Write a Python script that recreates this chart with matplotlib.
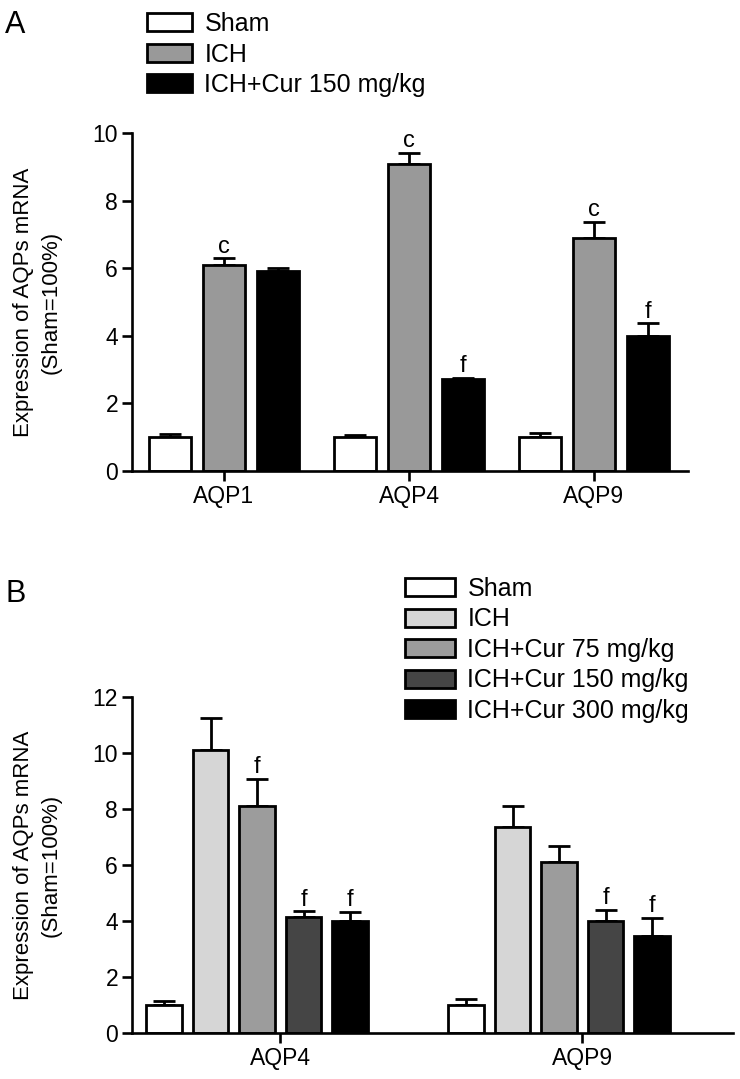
import numpy as np # numpy gives us the bar positions
import matplotlib
matplotlib.use("Agg") # no display in the sandbox
import matplotlib.pyplot as plt # pyplot draws the two bar charts

# DATA - panel A (one value per gene)
GENES_A = ["AQP1", "AQP4", "AQP9"]
GROUPS_A = ["Sham", "ICH", "ICH+Cur 150 mg/kg"]
SHAM_A = [1.0, 1.0, 1.0]
SHAM_A_ERR = [0.10, 0.07, 0.13]
ICH_A = [6.10, 9.09, 6.88]
ICH_A_ERR = [0.20, 0.33, 0.50]
CUR150_A = [5.93, 2.72, 3.98]
CUR150_A_ERR = [0.08, 0.03, 0.39]
LETTERS_A = [["", "", ""], ["c", "c", "c"], ["", "f", "f"]]

# DATA - panel B
GENES_B = ["AQP4", "AQP9"]
GROUPS_B = ["Sham", "ICH", "ICH+Cur 75 mg/kg", "ICH+Cur 150 mg/kg", "ICH+Cur 300 mg/kg"]
SHAM_B = [1.01, 1.01]
SHAM_B_ERR = [0.12, 0.20]
ICH_B = [10.12, 7.35]
ICH_B_ERR = [1.13, 0.77]
CUR75_B = [8.12, 6.11]
CUR75_B_ERR = [0.96, 0.56]
CUR150_B = [4.13, 3.99]
CUR150_B_ERR = [0.22, 0.41]
CUR300_B = [4.01, 3.45]
CUR300_B_ERR = [0.31, 0.66]
LETTERS_B = [["", ""], ["", ""], ["f", ""], ["f", "f"], ["f", "f"]]

FONT = "Liberation Sans"


def style_axes(ax, ymax, step):
    """
    Gives the axes the GraphPad look: only left and bottom spines, thick, ticks outside.
    """
    for side in ["top", "right"]:
        ax.spines[side].set_visible(False)
    for side in ["left", "bottom"]:
        ax.spines[side].set_linewidth(1.9)
    ax.set_ylim(0, ymax)
    ax.set_yticks(np.arange(0, ymax + 0.1, step))
    ax.tick_params(axis="both", direction="out", length=7, width=1.9, labelsize=16.5, pad=3)
    for lab in ax.get_xticklabels() + ax.get_yticklabels():
        lab.set_fontfamily(FONT)


def draw_group_bars(ax, centers, offsets, width, series, errors, colors, labels, letters):
    """
    Draws every series as bars with an upper error bar and the significance letters.
    """
    handles = []
    for k, (vals, errs) in enumerate(zip(series, errors)):
        x = centers + offsets[k]
        bars = ax.bar(x, vals, width, color=colors[k], edgecolor="black", linewidth=2,
                      label=labels[k], zorder=2)
        handles.append(bars)
        ax.errorbar(x, vals, yerr=[np.zeros(len(vals)), errs], fmt="none", ecolor="black",
                    elinewidth=2, capsize=8, capthick=2, zorder=1)
        for xi, v, e, letter in zip(x, vals, errs, letters[k]):
            if letter:
                ax.annotate(letter, (xi, v + e), xytext=(0, 4), textcoords="offset points",
                            ha="center", va="baseline", fontsize=17, fontfamily=FONT)
    return handles


def add_legend(ax, fig, x_px, y_px, handlelength):
    """
    Puts a frameless legend with its upper left corner at a pixel place of the figure.
    """
    W, H = fig.get_size_inches() * fig.dpi
    leg = ax.legend(loc="upper left", bbox_to_anchor=(x_px / W, 1 - y_px / H),
                    bbox_transform=fig.transFigure, frameon=False, borderpad=0,
                    borderaxespad=0, handlelength=handlelength, handleheight=0.75,
                    handletextpad=0.5, labelspacing=0.26, prop={"family": FONT, "size": 18})
    return leg


if __name__ == "__main__":
    fig = plt.figure(figsize=(7.4, 10.79), dpi=100)
    W, H = 740, 1079

    # PANEL A
    axA = fig.add_axes([132 / W, 1 - 471 / H, (688 - 132) / W, (471 - 133) / H])
    centers_a = np.arange(len(GENES_A))
    stride_a = 0.292
    offsets_a = [-stride_a, 0, stride_a]
    draw_group_bars(axA, centers_a, offsets_a, 0.226,
                    [SHAM_A, ICH_A, CUR150_A], [SHAM_A_ERR, ICH_A_ERR, CUR150_A_ERR],
                    ["white", "#999999", "black"], GROUPS_A, LETTERS_A)
    axA.set_xlim(-0.497, 2.508)
    axA.set_xticks(centers_a)
    axA.set_xticklabels(GENES_A)
    style_axes(axA, 10, 2)
    add_legend(axA, fig, 147, 12, 1.8)

    # PANEL B
    axB = fig.add_axes([132 / W, 1 - 1033 / H, (733 - 132) / W, (1033 - 697) / H])
    centers_b = np.arange(len(GENES_B))
    stride_b = 0.154
    offsets_b = [(k - 2) * stride_b for k in range(5)]
    draw_group_bars(axB, centers_b, offsets_b, 0.118,
                    [SHAM_B, ICH_B, CUR75_B, CUR150_B, CUR300_B],
                    [SHAM_B_ERR, ICH_B_ERR, CUR75_B_ERR, CUR150_B_ERR, CUR300_B_ERR],
                    ["white", "#d6d6d6", "#9c9c9c", "#454545", "black"], GROUPS_B, LETTERS_B)
    axB.set_xlim(-0.414, 1.576)
    axB.set_xticks(centers_b + stride_b / 2) # GraphPad puts the tick half a bar to the right
    axB.set_xticklabels(GENES_B)
    style_axes(axB, 12, 2)
    add_legend(axB, fig, 405, 577, 2.0)

    # y labels and panel letters
    ylab = "Expression of AQPs mRNA\n(Sham=100%)"
    fig.text(37 / W, 1 - 302 / H, ylab, rotation=90, ha="center", va="center",
             fontsize=16, fontfamily=FONT, linespacing=1.4, multialignment="center")
    fig.text(37 / W, 1 - 865 / H, ylab, rotation=90, ha="center", va="center",
             fontsize=16, fontfamily=FONT, linespacing=1.4, multialignment="center")
    fig.text(5 / W, 1 - 33 / H, "A", fontsize=22, fontfamily=FONT, va="baseline")
    fig.text(5 / W, 1 - 602 / H, "B", fontsize=22, fontfamily=FONT, va="baseline")

    fig.savefig("out.png", dpi=100)
    plt.close(fig)
